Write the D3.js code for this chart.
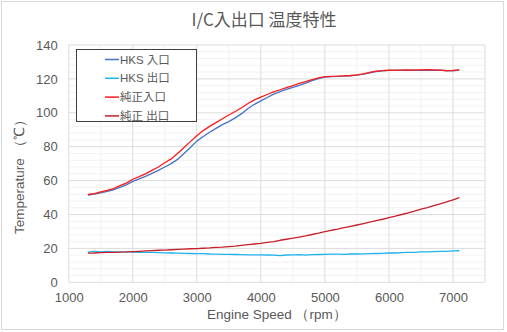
<!DOCTYPE html>
<html>
<head>
<meta charset="utf-8">
<script src="https://cdn.jsdelivr.net/npm/d3@7"></script>
<style>
  html, body { margin: 0; padding: 0; background: #fff; }
  svg { display: block; }
</style>
</head>
<body>
<svg id="chart" width="507" height="332"></svg>
<script>
// Engine speed samples (rpm)
const rpm = [1300,1400,1500,1600,1700,1800,1900,2000,2100,2200,2300,2400,2500,2600,2700,2800,2900,3000,
  3100,3200,3300,3400,3500,3600,3700,3800,3900,4000,4100,4200,4300,4400,4500,4600,4700,4800,4900,5000,
  5100,5200,5300,5400,5500,5600,5700,5800,5900,6000,6100,6200,6300,6400,6500,6600,6700,6800,6900,7000,7100];

// Temperatures (°C)
const hksIn = [51.5,52.0,52.8,53.6,54.6,56.0,57.5,59.5,61.0,62.5,64.3,66.0,68.0,70.0,72.5,76.0,79.5,83.3,
  86.0,88.5,90.8,93.0,94.8,97.0,99.5,102.5,105.0,107.0,109.0,111.0,112.5,113.8,115.0,116.2,117.5,119.0,120.2,121.0,
  121.3,121.5,121.6,121.8,122.2,122.8,123.6,124.3,124.7,125.0,125.0,125.1,125.0,125.1,125.2,125.1,125.0,125.2,124.9,124.8,125.2];
const hksOut = [17.8,18.2,18.0,18.3,17.9,18.0,17.9,17.8,17.7,17.6,17.6,17.5,17.4,17.3,17.2,17.1,17.0,16.9,
  16.9,16.7,16.6,16.5,16.5,16.4,16.3,16.2,16.2,16.2,16.1,16.0,15.7,16.1,16.2,16.3,16.0,16.3,16.4,16.5,
  16.6,16.6,16.5,16.7,16.7,16.8,16.9,17.0,17.1,17.3,17.3,17.5,17.6,17.7,17.9,18.0,18.1,18.2,18.3,18.5,18.6];
const oemIn = [51.8,52.3,53.3,54.2,55.3,57.0,58.5,60.8,62.3,64.0,66.0,68.0,70.5,72.8,76.0,79.5,83.0,86.5,
  89.5,92.0,94.2,96.5,98.7,100.8,103.0,105.5,107.6,109.2,110.8,112.3,113.6,114.8,116.0,117.3,118.4,119.6,120.6,121.3,
  121.5,121.6,121.8,122.0,122.4,123.0,123.8,124.6,124.9,125.1,125.2,125.2,125.3,125.2,125.3,125.4,125.3,125.2,124.8,125.0,125.3];
const oemOut = [17.2,17.3,17.5,17.6,17.7,17.8,17.9,18.1,18.3,18.5,18.7,18.9,19.0,19.2,19.4,19.6,19.8,19.9,
  20.1,20.3,20.6,20.8,21.1,21.4,21.8,22.2,22.6,23.0,23.5,24.0,24.8,25.4,26.0,26.7,27.4,28.2,29.0,29.9,
  30.7,31.4,32.2,33.0,33.8,34.6,35.5,36.4,37.2,38.1,39.0,40.0,41.0,42.0,43.1,44.1,45.2,46.3,47.4,48.6,50.0];

const seriesNames = ["HKS 入口", "HKS 出口", "純正入口", "純正 出口"];
const seriesColors = ["#4472C4", "#1FB2EE", "#FF1A1A", "#C8202A"];
const seriesValues = [hksIn, hksOut, oemIn, oemOut];

const xTicks = [1000,2000,3000,4000,5000,6000,7000];
const yTicks = [0,20,40,60,80,100,120,140];

const svg = d3.select("#chart");
const W = 507, H = 332;
const plot = { left: 68.7, top: 45, right: 485, bottom: 282.3 };
const font = "'Liberation Sans', Arial, sans-serif";
const textColor = "#595959";

// chart frame
svg.append("rect").attr("x", 1.5).attr("y", 1.5).attr("width", W - 5).attr("height", H - 4)
  .attr("fill", "#fff").attr("stroke", "#D9D9D9").attr("stroke-width", 1);

const x = d3.scaleLinear().domain([1000, 7500]).range([plot.left, plot.right]);
const y = d3.scaleLinear().domain([0, 140]).range([plot.bottom, plot.top]);

// minor grid
const g = svg.append("g");
g.selectAll(".vminor").data(d3.range(1500, 7500, 1000)).join("line")
  .attr("x1", d => x(d)).attr("x2", d => x(d)).attr("y1", plot.top).attr("y2", plot.bottom)
  .attr("stroke", "#F2F2F2").attr("stroke-width", 1);
g.selectAll(".hminor").data(d3.range(0, 140, 4).filter(v => v % 20 !== 0)).join("line")
  .attr("x1", plot.left).attr("x2", plot.right).attr("y1", d => y(d)).attr("y2", d => y(d))
  .attr("stroke", "#F2F2F2").attr("stroke-width", 1);
// major grid
g.selectAll(".vmajor").data([...xTicks, 7500]).join("line")
  .attr("x1", d => x(d)).attr("x2", d => x(d)).attr("y1", plot.top).attr("y2", plot.bottom)
  .attr("stroke", "#DCDCDC").attr("stroke-width", 1);
g.selectAll(".hmajor").data(yTicks).join("line")
  .attr("x1", plot.left).attr("x2", plot.right).attr("y1", d => y(d)).attr("y2", d => y(d))
  .attr("stroke", "#DCDCDC").attr("stroke-width", 1);

// axes (labels only)
const xAxis = svg.append("g").attr("transform", `translate(0,${plot.bottom})`)
  .call(d3.axisBottom(x).tickValues(xTicks).tickFormat(d3.format("d")).tickSize(0).tickPadding(10));
const yAxis = svg.append("g").attr("transform", `translate(${plot.left},0)`)
  .call(d3.axisLeft(y).tickValues(yTicks).tickFormat(d3.format("d")).tickSize(0).tickPadding(11));
[xAxis, yAxis].forEach(a => {
  a.select(".domain").remove();
  a.selectAll("text").attr("fill", textColor).style("font-family", font).style("font-size", "13px");
});

// series lines
const line = d3.line().x((d, i) => x(rpm[i])).y(d => y(d));
seriesValues.forEach((vals, k) => {
  svg.append("path").datum(vals).attr("d", line)
    .attr("fill", "none").attr("stroke", seriesColors[k]).attr("stroke-width", 1.3)
    .attr("stroke-linejoin", "round");
});

// title
svg.append("text").attr("x", 264).attr("y", 26).attr("text-anchor", "middle")
  .attr("fill", textColor).style("font-family", "'Noto Sans CJK JP', sans-serif")
  .style("font-size", "17px").text("I/C入出口 温度特性");

// axis titles
svg.append("text").attr("x", (plot.left + plot.right) / 2).attr("y", 319).attr("text-anchor", "middle")
  .attr("fill", textColor).style("font-family", font).style("font-size", "13.5px")
  .text("Engine Speed （rpm）");
svg.append("text").attr("transform", `translate(24,${(plot.top + plot.bottom) / 2 + 10}) rotate(-90)`)
  .attr("text-anchor", "middle").attr("fill", textColor)
  .style("font-family", font).style("font-size", "13.5px").text("Temperature （℃）");

// legend
const lg = svg.append("g");
lg.append("rect").attr("x", 76.5).attr("y", 49.5).attr("width", 120).attr("height", 72)
  .attr("fill", "#fff").attr("stroke", "#404040").attr("stroke-width", 1);
seriesNames.forEach((name, k) => {
  const yy = 59.5 + k * 18.8;
  lg.append("line").attr("x1", 105).attr("x2", 119).attr("y1", yy).attr("y2", yy)
    .attr("stroke", seriesColors[k]).attr("stroke-width", 1.5);
  lg.append("text").attr("x", 120).attr("y", yy + 4).attr("fill", textColor)
    .style("font-family", "'Liberation Sans', 'Noto Sans CJK JP', sans-serif").style("font-size", "11.5px")
    .text(name);
});
</script>
</body>
</html>
